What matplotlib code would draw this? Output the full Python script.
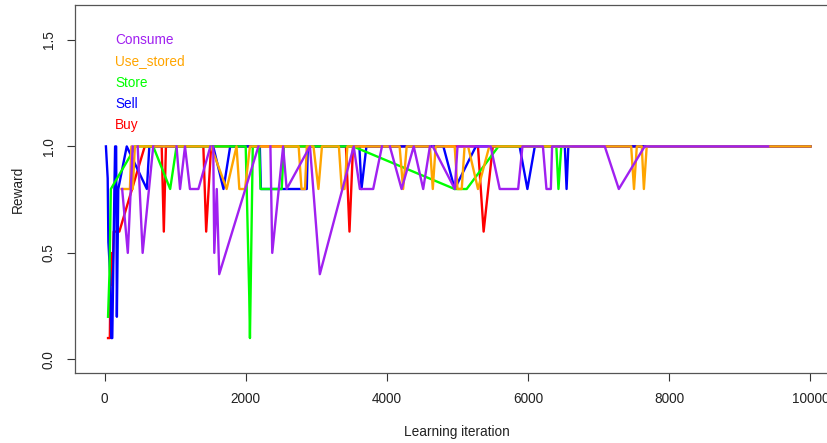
import matplotlib
matplotlib.use("Agg")
import matplotlib.pyplot as plt

plt.rcParams["font.family"] = ["Liberation Sans", "DejaVu Sans"]

# Buy (red)
buy_x = [50, 75, 90, 110, 130, 210, 570, 810, 840, 870, 1400, 1440, 1510,
         3420, 3470, 3520, 5290, 5370, 5500, 10000]
buy_y = [0.1, 0.1, 0.5, 0.35, 0.6, 0.6, 1.0, 1.0, 0.6, 1.0, 1.0, 0.6, 1.0,
         1.0, 0.6, 1.0, 1.0, 0.6, 1.0, 1.0]

# Sell (blue)
sell_x = [20, 45, 55, 80, 95, 110, 140, 150, 165, 175, 195, 315, 600, 635,
          1540, 1685, 1780, 2200, 2215, 2865, 2880, 3610, 3640, 3710,
          4800, 4960, 5260, 5880, 5990, 6095, 6520, 6545, 6570, 10000]
sell_y = [1.0, 0.85, 0.55, 0.4, 0.1, 0.1, 0.8, 1.0, 1.0, 0.2, 0.8, 1.0, 0.8, 1.0,
          1.0, 0.8, 1.0, 1.0, 0.8, 0.8, 1.0, 1.0, 0.8, 1.0,
          1.0, 0.8, 1.0, 1.0, 0.8, 1.0, 1.0, 0.8, 1.0, 1.0]

# Store (green)
store_x = [50, 70, 90, 390, 430, 690, 930, 1020, 2000, 2050, 2060, 2100,
           2190, 2210, 2510, 2540, 3520, 4960, 5130, 5580, 6400, 6430, 6470, 6600]
store_y = [0.2, 0.4, 0.8, 0.97, 1.0, 1.0, 0.8, 1.0, 1.0, 0.3, 0.1, 1.0,
           1.0, 0.8, 0.8, 1.0, 1.0, 0.8, 0.8, 1.0, 1.0, 0.8, 1.0, 1.0]

# Use_stored (orange)
use_x = [240, 360, 380, 400, 430, 1510, 1730, 1870, 1910, 1990, 2060,
         2750, 2790, 2840, 2865, 2960, 3030, 3080, 3320, 3360, 3400, 3440,
         4180, 4230, 4280, 4610, 4650, 4690, 4960, 5000, 5060, 5100,
         5150, 5290, 5450, 7460, 7500, 7540, 7610, 7640, 7680, 10000]
use_y = [0.8, 0.8, 1.0, 0.8, 1.0, 1.0, 0.8, 1.0, 0.8, 0.8, 1.0,
         1.0, 0.8, 0.8, 1.0, 1.0, 0.8, 1.0, 1.0, 0.8, 0.8, 1.0,
         1.0, 0.8, 1.0, 1.0, 0.8, 1.0, 1.0, 0.8, 0.8, 1.0,
         1.0, 0.8, 1.0, 1.0, 0.8, 1.0, 1.0, 0.8, 1.0, 1.0]

# Consume (purple); None = gap between recorded dips
consume_x = [250, 330, 400, None, 470, 540, 690, None,
             1020, 1070, 1140, 1210, 1330, 1500, None,
             1540, 1555, 1590, 1625, 2180, None,
             2350, 2376, 2530, 2580, 2910, 3050, 3530, 3617, 3806, 3930, None,
             4042, 4208, 4380, 4514, 4609, None,
             4650, 4962, 5000, 5470, 5598, 5859, 5920, 6210, 6260, 6322, 6340,
             7086, 7285, 7651, 9400]
consume_y = [0.8, 0.5, 1.0, None, 1.0, 0.5, 1.0, None,
             1.0, 0.8, 1.0, 0.8, 0.8, 1.0, None,
             1.0, 0.5, 0.8, 0.4, 1.0, None,
             1.0, 0.5, 1.0, 0.8, 1.0, 0.4, 1.0, 0.8, 0.8, 1.0, None,
             1.0, 0.8, 1.0, 0.8, 1.0, None,
             1.0, 0.8, 1.0, 1.0, 0.8, 0.8, 1.0, 1.0, 0.8, 0.8, 1.0,
             1.0, 0.8, 1.0, 1.0]

legend_labels = ["Consume", "Use_stored", "Store", "Sell", "Buy"]
legend_colors = ["#A020F0", "#FFA500", "#00FF00", "#0000FF", "#FF0000"]
legend_y = [1.5, 1.4, 1.3, 1.2, 1.1]


def clean(xs, ys):
    return ([float("nan") if v is None else v for v in xs],
            [float("nan") if v is None else v for v in ys])


fs = 9.8
fig = plt.figure(figsize=(8.28, 4.43), dpi=100)
ax = fig.add_axes([75 / 828, 70 / 443, (840 - 75) / 828, (373 - 5) / 443])

lw = 1.7
ax.plot(buy_x, buy_y, color="#FF0000", linewidth=lw)
ax.plot(sell_x, sell_y, color="#0000FF", linewidth=lw)
ax.plot(store_x, store_y, color="#00FF00", linewidth=lw)
ax.plot(use_x, use_y, color="#FFA500", linewidth=lw)
ax.plot(*clean(consume_x, consume_y), color="#A020F0", linewidth=lw)

for lab, col, yy in zip(legend_labels, legend_colors, legend_y):
    ax.text(150, yy, lab, color=col, fontsize=fs, ha="left", va="center")

ax.set_xlim(-418, 10418)
ax.set_ylim(-0.064, 1.664)
ax.set_xticks([0, 2000, 4000, 6000, 8000, 10000])
ax.set_yticks([0.0, 0.5, 1.0, 1.5])
ax.set_yticklabels(["0.0", "0.5", "1.0", "1.5"], rotation=90, va="center")
ax.tick_params(axis="both", labelsize=fs, length=5.8, width=0.8,
               color="#333333", labelcolor="#222222", pad=8)
for sp in ax.spines.values():
    sp.set_color("#555555")
    sp.set_linewidth(0.9)

fig.text(457 / 828, 1 - 432 / 443, "Learning iteration", ha="center", va="center",
         fontsize=fs, color="#222222")
fig.text(18 / 828, 1 - 189 / 443, "Reward", ha="center", va="center",
         rotation=90, fontsize=fs, color="#222222")

fig.savefig("out.png", dpi=100)
